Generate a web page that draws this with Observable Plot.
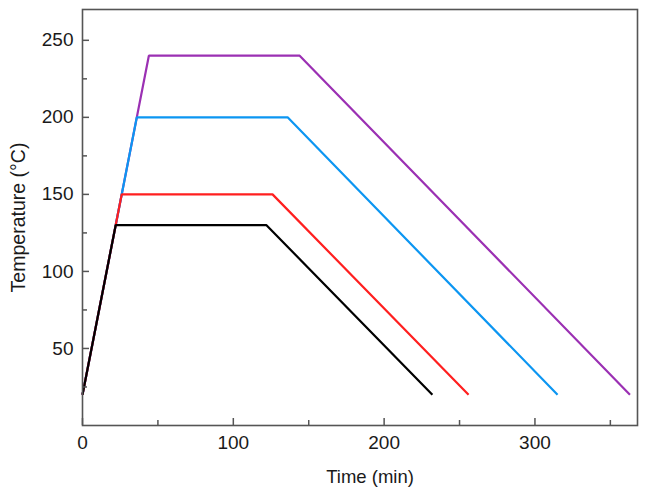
<!DOCTYPE html>
<html>
<head>
<meta charset="utf-8">
<script src="https://cdn.jsdelivr.net/npm/d3@7"></script>
<script src="https://cdn.jsdelivr.net/npm/@observablehq/plot@0.6"></script>
<style>
  html, body { margin: 0; padding: 0; background: #fff; }
  #chart { width: 647px; height: 494px; }
</style>
</head>
<body>
<div id="chart"></div>
<script>
// Data (time in min, temperature in °C)
const time130 = [0, 22, 122, 232];
const temp130 = [20, 130, 130, 20];
const time150 = [0, 26, 126, 256];
const temp150 = [20, 150, 150, 20];
const time200 = [0, 36, 136, 315];
const temp200 = [20, 200, 200, 20];
const time240 = [0, 44, 144, 363];
const temp240 = [20, 240, 240, 20];

const seriesNames = ["240", "200", "150", "130"]; // drawing order (last on top)
const seriesColors = ["#9b30b3", "#0c96f2", "#ff1f1f", "#000000"];

const xMajorTicks = [0, 100, 200, 300];
const xMinorTicks = [50, 150, 250, 350];
const yMajorTicks = [50, 100, 150, 200, 250];
const yMinorTicks = [25, 75, 125, 175, 225];

const xLabel = "Time (min)";
const yLabel = "Temperature (°C)";

const seriesData = {
  "130": time130.map((t, i) => ({t, T: temp130[i], s: "130"})),
  "150": time150.map((t, i) => ({t, T: temp150[i], s: "150"})),
  "200": time200.map((t, i) => ({t, T: temp200[i], s: "200"})),
  "240": time240.map((t, i) => ({t, T: temp240[i], s: "240"}))
};

const font = "'Liberation Sans', Arial, Helvetica, sans-serif";
const axisColor = "#555";

const chart = Plot.plot({
  width: 647,
  height: 494,
  marginLeft: 82,
  marginRight: 10,
  marginTop: 9,
  marginBottom: 69,
  style: {fontFamily: font, fontSize: "19px", color: "#1a1a1a", background: "#fff"},
  x: {domain: [0, 368]},
  y: {domain: [0, 270]},
  marks: [
    ...seriesNames.map((s, i) => Plot.line(seriesData[s], {
      x: "t", y: "T", stroke: seriesColors[i], strokeWidth: 2.2,
      strokeLinejoin: "miter", strokeLinecap: "butt"
    })),
    Plot.frame({stroke: axisColor, strokeWidth: 1.6}),
    // tick labels
    Plot.axisX({ticks: xMajorTicks, tickSize: 0, tickPadding: 10, tickFormat: d3.format("d"), label: null, fontSize: 19, fill: "#1a1a1a"}),
    Plot.axisY({ticks: yMajorTicks, tickSize: 0, tickPadding: 9, tickFormat: d3.format("d"), label: null, fontSize: 19, fill: "#1a1a1a"}),
    // inward ticks
    Plot.axisX({ticks: xMajorTicks, tickSize: -7, text: null, label: null, stroke: axisColor, strokeWidth: 1.5}),
    Plot.axisX({ticks: xMinorTicks, tickSize: -5, text: null, label: null, stroke: axisColor, strokeWidth: 1.5}),
    Plot.axisY({ticks: yMajorTicks, tickSize: -7, text: null, label: null, stroke: axisColor, strokeWidth: 1.5}),
    Plot.axisY({ticks: yMinorTicks, tickSize: -5, text: null, label: null, stroke: axisColor, strokeWidth: 1.5}),
    // axis titles
    Plot.text([xLabel], {text: d => d, frameAnchor: "bottom", dx: 10, dy: 57, lineAnchor: "bottom", textAnchor: "middle", fontSize: 18.5, fill: "#1a1a1a"}),
    Plot.text([yLabel], {text: d => d, frameAnchor: "left", dx: -64, rotate: -90, textAnchor: "middle", lineAnchor: "middle", fontSize: 19.5, fill: "#1a1a1a"})
  ]
});

document.getElementById("chart").appendChild(chart);
</script>
</body>
</html>
